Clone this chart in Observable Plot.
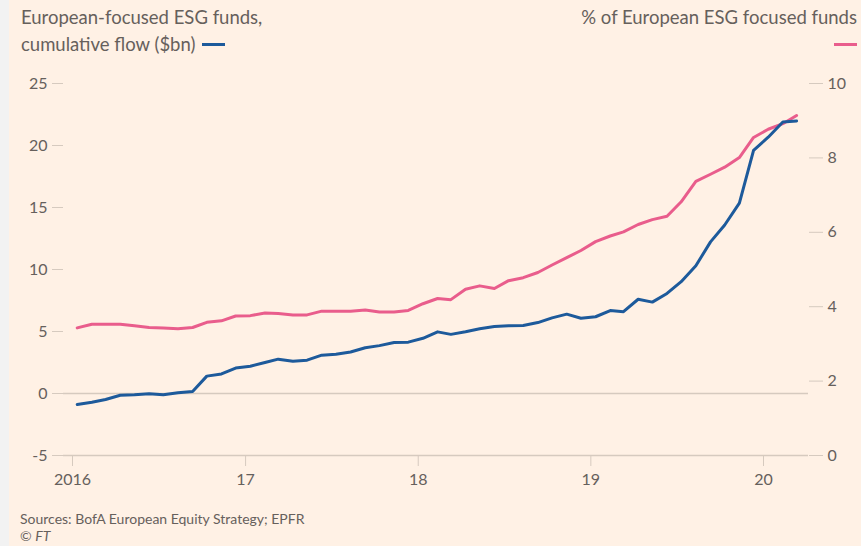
<!DOCTYPE html>
<html>
<head>
<meta charset="utf-8">
<script src="https://cdn.jsdelivr.net/npm/d3@7"></script>
<script src="https://cdn.jsdelivr.net/npm/@observablehq/plot@0.6"></script>
<style>
  html, body { margin: 0; padding: 0; background: #fff1e5; }
  #page { position: relative; width: 861px; height: 546px; background: #fff1e5; overflow: hidden; font-family: Lato, "Open Sans", sans-serif; color: #66605c; }
  #strip { position: absolute; left: 0; top: 0; width: 9px; height: 546px; background: #f2f2f2; }
  #chart { position: absolute; left: 0; top: 0; }
  .title { position: absolute; font-size: 18.5px; line-height: 27px; color: #66605c; }
  #tl { left: 21px; top: 4px; }
  #tr { right: 4px; top: 4px; text-align: right; }
  .dash { display: inline-block; width: 23px; height: 3px; vertical-align: middle; margin-left: 7px; position: relative; top: -2px; }
  #caption { position: absolute; left: 20px; top: 510px; font-size: 14px; line-height: 17px; color: #66605c; }
</style>
</head>
<body>
<div id="page">
  <div id="strip"></div>
  <div id="chart"></div>
  <div class="title" id="tl">European-focused ESG funds,<br>cumulative flow ($bn)<span class="dash" style="background:#1d5a9b"></span></div>
  <div class="title" id="tr">% of European ESG focused funds<br><span class="dash" style="background:#e95d8c"></span></div>
  <div id="caption">Sources: BofA European Equity Strategy; EPFR<br>© <i>FT</i></div>
</div>
<script>
// Monthly observations
const months = [
  "2016-01","2016-02","2016-03","2016-04","2016-05","2016-06","2016-07","2016-08","2016-09","2016-10","2016-11","2016-12",
  "2017-01","2017-02","2017-03","2017-04","2017-05","2017-06","2017-07","2017-08","2017-09","2017-10","2017-11","2017-12",
  "2018-01","2018-02","2018-03","2018-04","2018-05","2018-06","2018-07","2018-08","2018-09","2018-10","2018-11","2018-12",
  "2019-01","2019-02","2019-03","2019-04","2019-05","2019-06","2019-07","2019-08","2019-09","2019-10","2019-11","2019-12",
  "2020-01","2020-02","2020-03"
];
// European-focused ESG funds, cumulative flow ($bn) - left axis
const cumulativeFlow = [
  -0.89,-0.70,-0.48,-0.14,-0.10,-0.02,-0.10,0.06,0.16,1.40,1.58,2.05,
  2.20,2.50,2.77,2.60,2.69,3.09,3.16,3.35,3.69,3.86,4.11,4.14,
  4.45,4.97,4.77,4.98,5.22,5.41,5.46,5.49,5.72,6.10,6.40,6.07,
  6.19,6.69,6.60,7.60,7.37,8.07,9.02,10.30,12.23,13.59,15.35,19.60,
  20.67,21.90,21.98
];
// % of European ESG focused funds - right axis
const esgShare = [
  3.43,3.53,3.53,3.53,3.49,3.44,3.43,3.41,3.44,3.58,3.62,3.75,
  3.76,3.83,3.82,3.78,3.78,3.88,3.88,3.88,3.91,3.86,3.86,3.90,
  4.08,4.22,4.19,4.47,4.56,4.49,4.70,4.78,4.92,5.12,5.32,5.51,
  5.75,5.90,6.01,6.21,6.34,6.43,6.82,7.37,7.56,7.75,8.01,8.55,
  8.77,8.92,9.14
];
const leftTicks = [-5, 0, 5, 10, 15, 20, 25];
const rightTicks = [0, 2, 4, 6, 8, 10];
const yearTicks = ["2016", "2017", "2018", "2019", "2020"];
const yearLabels = ["2016", "17", "18", "19", "20"];

const parseMonth = d3.utcParse("%Y-%m");
// right axis maps 0..10 onto left -5..25
const toLeft = p => p * 3 - 5;
const data = months.map((m, i) => ({
  date: d3.utcDay.offset(parseMonth(m), 10),
  flow: cumulativeFlow[i],
  shareLeft: toLeft(esgShare[i])
}));
const yearDates = yearTicks.map(y => d3.utcParse("%Y")(y));
const labelFor = new Map(yearDates.map((d, i) => [+d, yearLabels[i]]));

const tickColor = "#d6cabf";
const chart = Plot.plot({
  width: 861,
  height: 500,
  marginLeft: 63,
  marginRight: 53,
  marginTop: 83,
  marginBottom: 45,
  style: { background: "transparent", fontFamily: "Lato, 'Open Sans', sans-serif", fontSize: "16px", color: "#66605c" },
  x: { type: "utc", domain: [new Date(Date.UTC(2015, 11, 13)), new Date(Date.UTC(2020, 3, 5, 4))] },
  y: { domain: [-5, 25] },
  marks: [
    Plot.ruleY([-5, 0], { stroke: tickColor, strokeWidth: 1.4 }),
    Plot.axisY(leftTicks, { anchor: "left", tickSize: 11, tickPadding: 5, stroke: tickColor, fill: "#66605c", fontSize: 16, label: null, tickFormat: d => String(d) }),
    Plot.axisY(rightTicks.map(toLeft), { anchor: "right", tickSize: 14, tickPadding: 5, stroke: tickColor, fill: "#66605c", fontSize: 16, label: null, tickFormat: d => String(Math.round((d + 5) / 3)) }),
    Plot.axisX(yearDates, { anchor: "bottom", tickSize: 11, tickPadding: 7, stroke: tickColor, fill: "#66605c", fontSize: 16, label: null, tickFormat: d => labelFor.get(+d) }),
    Plot.line(data, { x: "date", y: "shareLeft", stroke: "#e95d8c", strokeWidth: 3 }),
    Plot.line(data, { x: "date", y: "flow", stroke: "#1d5a9b", strokeWidth: 3 })
  ]
});
document.getElementById("chart").appendChild(chart);
</script>
</body>
</html>
